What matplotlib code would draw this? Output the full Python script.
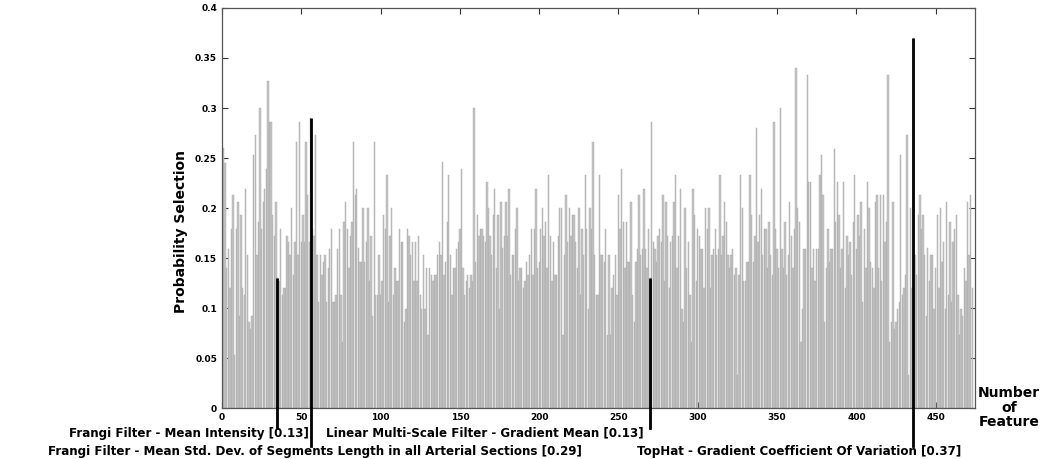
import numpy as np
import matplotlib
matplotlib.use("Agg")
import matplotlib.pyplot as plt
from matplotlib.transforms import blended_transform_factory

# Probability that each feature is selected (features 1..473)
selection_prob = [
    0.26, 0.245, 0.14, 0.159, 0.12, 0.179, 0.213, 0.053, 0.179, 0.206, 0.092, 0.193, 0.12, 0.113, 0.219, 0.153,
    0.086, 0.079, 0.092, 0.253, 0.273, 0.153, 0.186, 0.3, 0.179, 0.206, 0.219, 0.239, 0.327, 0.286, 0.286, 0.193,
    0.172, 0.206, 0.13, 0.127, 0.179, 0.113,
    0.12, 0.12, 0.172, 0.166, 0.153, 0.2, 0.133, 0.166, 0.266, 0.153, 0.286, 0.166, 0.193, 0.166, 0.266, 0.213,
    0.166, 0.29, 0.179, 0.172, 0.273, 0.153, 0.106, 0.153, 0.133, 0.146, 0.153, 0.106, 0.14, 0.159, 0.179, 0.106,
    0.106, 0.113, 0.159, 0.179, 0.113, 0.066, 0.186, 0.206,
    0.179, 0.14, 0.172, 0.186, 0.266, 0.213, 0.219, 0.16, 0.146, 0.146, 0.2, 0.146, 0.166, 0.2, 0.127, 0.172,
    0.092, 0.266, 0.113, 0.113, 0.153, 0.113, 0.127, 0.193, 0.179, 0.233, 0.106, 0.172, 0.2, 0.113, 0.14, 0.127,
    0.127, 0.179, 0.166, 0.166, 0.086, 0.099, 0.179, 0.172,
    0.153, 0.166, 0.127, 0.166, 0.127, 0.172, 0.113, 0.099, 0.153, 0.099, 0.14, 0.073, 0.14, 0.133, 0.127, 0.133,
    0.133, 0.153, 0.166, 0.153, 0.246, 0.133, 0.146, 0.186, 0.233, 0.153, 0.113, 0.14, 0.14, 0.159, 0.166, 0.179,
    0.239, 0.14, 0.113, 0.127, 0.133, 0.12, 0.133, 0.127,
    0.3, 0.146, 0.193, 0.172, 0.179, 0.179, 0.172, 0.166, 0.226, 0.2, 0.172, 0.153, 0.193, 0.219, 0.14, 0.193,
    0.099, 0.206, 0.16, 0.172, 0.206, 0.172, 0.219, 0.133, 0.153, 0.153, 0.179, 0.2, 0.127, 0.14, 0.14, 0.12,
    0.127, 0.146, 0.133, 0.153, 0.179, 0.133, 0.179,
    0.219, 0.14, 0.146, 0.179, 0.2, 0.172, 0.186, 0.14, 0.233, 0.172, 0.127, 0.166, 0.133, 0.133, 0.172, 0.2,
    0.2, 0.073, 0.153, 0.213, 0.166, 0.2, 0.172, 0.193, 0.193, 0.166, 0.14, 0.2, 0.113, 0.179, 0.153, 0.233,
    0.179, 0.099, 0.2, 0.179, 0.266, 0.153, 0.113, 0.113,
    0.233, 0.153, 0.153, 0.146, 0.179, 0.073, 0.153, 0.073, 0.12, 0.133, 0.153, 0.113, 0.213, 0.179, 0.239, 0.186,
    0.14, 0.186, 0.146, 0.146, 0.206, 0.113, 0.086, 0.146, 0.159, 0.213, 0.153, 0.159, 0.219, 0.159, 0.14, 0.179,
    0.13, 0.286, 0.166, 0.159, 0.146, 0.172, 0.179, 0.166,
    0.213, 0.127, 0.206, 0.172, 0.12, 0.166, 0.172, 0.206, 0.233, 0.14, 0.172, 0.219, 0.099, 0.086, 0.2, 0.14,
    0.166, 0.113, 0.066, 0.219, 0.193, 0.127, 0.179, 0.172, 0.159, 0.159, 0.12, 0.2, 0.179, 0.2, 0.12, 0.153,
    0.159, 0.179, 0.153, 0.159, 0.233, 0.153, 0.172, 0.206,
    0.186, 0.153, 0.14, 0.153, 0.159, 0.133, 0.14, 0.033, 0.133, 0.233, 0.2, 0.127, 0.127, 0.146, 0.146, 0.233,
    0.193, 0.146, 0.172, 0.28, 0.166, 0.193, 0.219, 0.153, 0.179, 0.179, 0.14, 0.186, 0.153, 0.133, 0.286, 0.179,
    0.159, 0.14, 0.3, 0.159, 0.14, 0.186, 0.133, 0.153,
    0.206, 0.172, 0.14, 0.179, 0.34, 0.2, 0.186, 0.066, 0.099, 0.159, 0.159, 0.333, 0.226, 0.226, 0.14, 0.159,
    0.127, 0.159, 0.159, 0.233, 0.253, 0.213, 0.086, 0.14, 0.179, 0.146, 0.159, 0.159, 0.259, 0.186, 0.226, 0.193,
    0.14, 0.159, 0.226, 0.12, 0.172, 0.153, 0.166, 0.133,
    0.186, 0.233, 0.159, 0.193, 0.172, 0.206, 0.106, 0.179, 0.14, 0.226, 0.2, 0.146, 0.14, 0.12, 0.206, 0.213,
    0.14, 0.213, 0.127, 0.213, 0.166, 0.186, 0.333, 0.066, 0.086, 0.206, 0.079, 0.086, 0.099, 0.106, 0.253, 0.113,
    0.12, 0.133, 0.273, 0.033, 0.2, 0.12, 0.37,
    0.153, 0.133, 0.193, 0.213, 0.179, 0.193, 0.153, 0.092, 0.16, 0.127, 0.153, 0.153, 0.099, 0.14, 0.193, 0.12,
    0.2, 0.146, 0.166, 0.099, 0.206, 0.113, 0.186, 0.106, 0.166, 0.179, 0.193, 0.113, 0.073, 0.099, 0.092, 0.14,
    0.127, 0.206, 0.153, 0.213, 0.12,
]

# Highlighted features: index, name, probability
top_features = [35, 56, 270, 436]
top_names = [
    "Frangi Filter - Mean Intensity",
    "Frangi Filter - Mean Std. Dev. of Segments Length in all Arterial Sections",
    "Linear Multi-Scale Filter - Gradient Mean",
    "TopHat - Gradient Coefficient Of Variation",
]
top_probs = [0.13, 0.29, 0.13, 0.37]

x_ticks = [0, 50, 100, 150, 200, 250, 300, 350, 400, 450]
y_ticks = [0, 0.05, 0.1, 0.15, 0.2, 0.25, 0.3, 0.35, 0.4]
y_tick_labels = ["0", "0.05", "0.1", "0.15", "0.2", "0.25", "0.3", "0.35", "0.4"]

plt.rcParams["font.family"] = "DejaVu Sans"

fig = plt.figure(figsize=(10.57, 4.59), dpi=100)
ax = fig.add_axes([0.21, 0.111, 0.712, 0.8716])

features = np.arange(1, len(selection_prob) + 1)
ax.bar(features, selection_prob, width=0.85, color="#c4c4c4",
       edgecolor="#a8a8a8", linewidth=0.3, zorder=2)

# Highlighted features as black lines running down to their captions
trans = blended_transform_factory(ax.transData, ax.transAxes)
line_ends = [-0.05, -0.095, -0.05, -0.095]
text_y = [-0.0625, -0.1075, -0.0625, -0.1075]
text_x = [55.0, 58.5, 266.0, 364.0]
text_ha = ["right", "center", "right", "center"]
for f, name, p, le, ty, tx, ha in zip(top_features, top_names, top_probs,
                                      line_ends, text_y, text_x, text_ha):
    ax.vlines(f, 0, p, color="black", linewidth=2.0, zorder=3)
    ax.plot([f, f], [0, le], color="black", linewidth=2.0,
            transform=trans, clip_on=False, zorder=3)
    ax.text(tx, ty, f"{name} [{p:.2f}]", transform=trans, ha=ha, va="center",
            fontsize=8.6, fontweight="bold", color="black")

ax.set_xlim(0, 474.5)
ax.set_ylim(0, 0.4)
ax.set_xticks(x_ticks)
ax.set_yticks(y_ticks)
ax.set_yticklabels(y_tick_labels)
ax.tick_params(direction="in", length=4, width=0.8, labelsize=6.5,
               top=True, right=True, colors="#333333", labelcolor="black")
for lbl in ax.get_xticklabels() + ax.get_yticklabels():
    lbl.set_fontweight("bold")
for s in ax.spines.values():
    s.set_color("#555555")
    s.set_linewidth(0.9)

ax.set_ylabel("Probability Selection", fontsize=10, fontweight="bold")
ax.yaxis.set_label_coords(-0.045, 0.4425)
ax.text(1.046, 0.055, "Number\nof\nFeature", transform=ax.transAxes,
        ha="center", va="top", fontsize=10, fontweight="bold", linespacing=1.05)

fig.savefig("out.png", dpi=100)
